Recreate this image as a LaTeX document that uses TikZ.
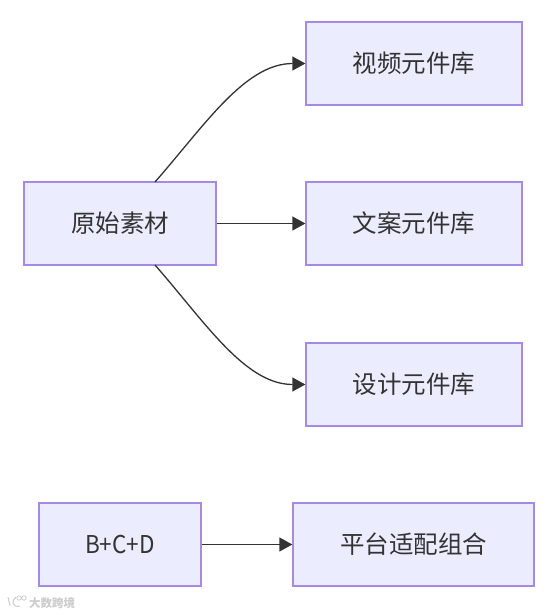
\documentclass[tikz,border=0pt]{standalone}
\usepackage{fontspec}
\setmainfont{Noto Sans CJK SC}
\usetikzlibrary{arrows.meta}
\definecolor{boxfill}{HTML}{ECECFF}
\definecolor{boxline}{HTML}{A48AE0}
\definecolor{ink}{HTML}{333333}
\tikzset{
  flowbox/.style={draw=boxline,fill=boxfill,line width=1.3pt,text=ink,font=\fontsize{24.5}{28}\selectfont,inner sep=0pt,minimum height=83pt,anchor=center},
  link/.style={draw=ink,line width=1.3pt,-{Stealth[length=13pt,width=14pt,inset=0pt]}},
  wmark/.style={text=gray!40,font=\bfseries\fontsize{11.5}{12}\selectfont,inner sep=0pt}
}
\begin{document}
\begin{tikzpicture}[x=1pt,y=-1pt]
\useasboundingbox (0,0) rectangle (559,615);
\node[flowbox,minimum width=192pt] (a) at (120,223.5) {原始素材};
\node[flowbox,minimum width=216pt] (b) at (414,63.5) {视频元件库};
\node[flowbox,minimum width=216pt] (c) at (414,223.5) {文案元件库};
\node[flowbox,minimum width=216pt] (d) at (414,384.5) {设计元件库};
\node[flowbox,minimum width=162pt] (e) at (120,544.5) {\scalebox{0.92}[1]{B+C+D}};
\node[flowbox,minimum width=241pt] (f) at (413.5,544.5) {平台适配组合};
\coordinate (at) at (155,182);
\coordinate (ab) at (155,265);
\draw[link] (at) .. controls (205,125) and (245,63.5) .. (b.west);
\draw[link] (a.east) -- (c.west);
\draw[link] (ab) .. controls (205,322) and (245,384.5) .. (d.west);
\draw[link] (e.east) -- (f.west);
\node[wmark,anchor=west] (w) at (29,603) {大数跨境};
\draw[gray!40,line width=1pt] (8,597) -- (10,606) (16,597) .. controls (11,600) and (12,608) .. (20,606);
\draw[gray!40,line width=0.8pt] (19,598) circle (2.2pt) (24,598) circle (2.2pt);
\end{tikzpicture}
\end{document}
